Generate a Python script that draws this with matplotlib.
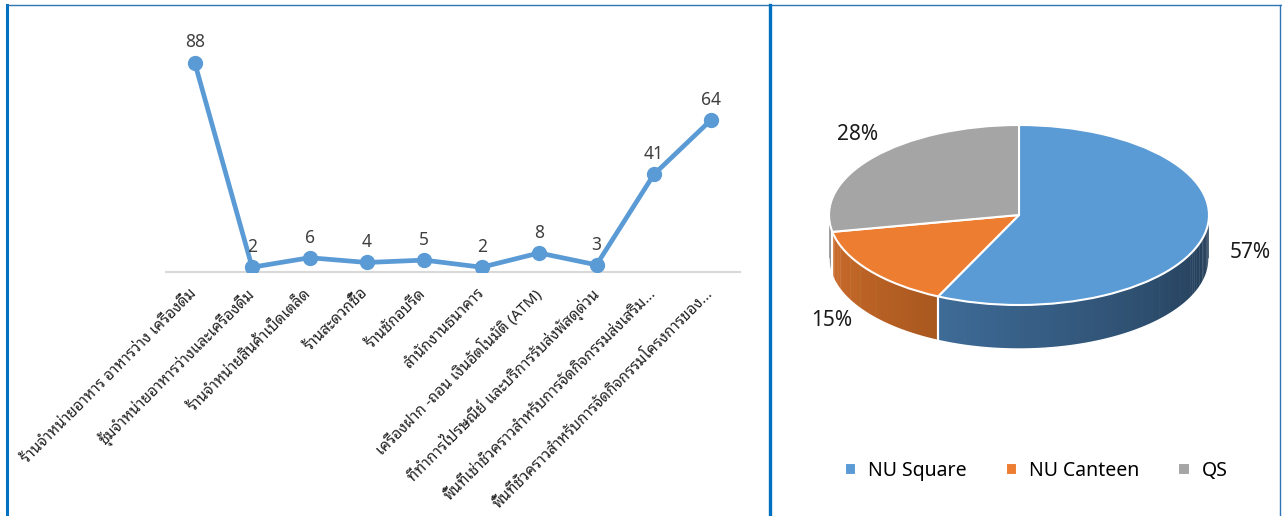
import numpy as np
import matplotlib
matplotlib.use("Agg")
import matplotlib.pyplot as plt
from matplotlib.lines import Line2D
from matplotlib.patches import Polygon

# ---- data ----
categories = [
    "ร้านจำหน่ายอาหาร อาหารว่าง เครื่องดื่ม",
    "ซุ้มจำหน่ายอาหารว่างและเครื่องดื่ม",
    "ร้านจำหน่ายสินค้าเบ็ดเตล็ด",
    "ร้านสะดวกซื้อ",
    "ร้านซักอบรีด",
    "สำนักงานธนาคาร",
    "เครื่องฝาก -ถอน เงินอัตโนมัติ (ATM)",
    "ที่ทำการไปรษณีย์ และบริการรับส่งพัสดุด่วน",
    "พื้นที่เช่าชั่วคราวสำหรับการจัดกิจกรรมส่งเสริม...",
    "พื้นที่ชั่วคราวสำหรับการจัดกิจกรรมโครงการของ...",
]
counts = [88, 2, 6, 4, 5, 2, 8, 3, 41, 64]

pie_labels = ["NU Square", "NU Canteen", "QS"]
pie_values = [57, 15, 28]
pie_colors = ["#5B9BD5", "#ED7D31", "#A5A5A5"]
side_colors = [("#3E6B97", "#223A52"), ("#CB6C2C", "#A9581F"), ("#8A8A8A", "#7A7A7A")]

plt.rcParams["font.family"] = ["Noto Sans Thai Looped", "Noto Sans", "DejaVu Sans"]

fig = plt.figure(figsize=(12.82, 5.16), dpi=100)
W, H = 1282, 516


def fx(px):
    return px / W


def fy(py):
    return 1 - py / H


# ---- panel borders ----
border = "#0070C0"
fig.add_artist(Line2D([fx(7), fx(7)], [fy(5), 0], transform=fig.transFigure, color=border, lw=2.2))
fig.add_artist(Line2D([fx(7), fx(1281)], [fy(5), fy(5)], transform=fig.transFigure, color="#2E75B6", lw=1.0))
fig.add_artist(Line2D([fx(770), fx(770)], [fy(5), 0], transform=fig.transFigure, color=border, lw=2.4))
fig.add_artist(Line2D([fx(1280), fx(1280)], [fy(5), 0], transform=fig.transFigure, color="#2E75B6", lw=1.0))

# ---- line chart ----
ax = fig.add_axes([fx(166), fy(272), fx(740) - fx(166), fy(34) - fy(272)])
x = np.arange(len(counts))
ax.plot(x, counts, color="#5B9BD5", lw=3.4, marker="o", markersize=10,
        solid_capstyle="round", solid_joinstyle="round", zorder=3)
for xi, v in zip(x, counts):
    ax.annotate(str(v), (xi, v), xytext=(0, 8), textcoords="offset points",
                ha="center", va="bottom", fontsize=12.5, color="#404040")
ax.set_xlim(-0.5, len(counts) - 0.5)
ax.set_ylim(0, 100)
ax.set_yticks([])
ax.set_xticks(x)
ax.set_xticklabels(categories, rotation=45, ha="right", va="center",
                   rotation_mode="anchor", fontsize=11, color="#222222")
ax.tick_params(axis="x", length=0, pad=14)
for s in ["top", "right", "left"]:
    ax.spines[s].set_visible(False)
ax.spines["bottom"].set_color("#D9D9D9")
ax.spines["bottom"].set_linewidth(1.5)
ax.patch.set_alpha(0)

# ---- 3D-ish pie ----
cx_px, cy_px, rx_px, ry_px = 1019, 215, 190, 90
xl, yl = (-1.15, 1.15), (-1.7, 1.15)
left_px = cx_px + xl[0] * rx_px
right_px = cx_px + xl[1] * rx_px
top_px = cy_px - yl[1] * ry_px
bot_px = cy_px - yl[0] * ry_px
pax = fig.add_axes([fx(left_px), fy(bot_px), fx(right_px) - fx(left_px), fy(top_px) - fy(bot_px)])
wedges, _ = pax.pie(pie_values, colors=pie_colors, startangle=90, counterclock=False,
                    wedgeprops=dict(edgecolor="white", linewidth=1.5))
pax.set_aspect("auto")
pax.set_xlim(*xl)
pax.set_ylim(*yl)
pax.axis("off")
depth = 44 / ry_px

# side walls, drawn as thin strips for a simple gradient
for w, (c0, c1) in zip(wedges, side_colors):
    t1, t2 = w.theta1 % 360, w.theta2 % 360
    if t2 <= t1:
        t2 += 360
    lo, hi = max(t1, 180), min(t2, 360)
    if hi <= lo:
        continue
    c0 = np.array(matplotlib.colors.to_rgb(c0))
    c1 = np.array(matplotlib.colors.to_rgb(c1))
    n = max(2, int((hi - lo) / 1.5))
    edges = np.linspace(lo, hi, n + 1)
    for i in range(n):
        a = np.radians(np.linspace(edges[i], edges[i + 1] + 0.3, 4))
        xs, ys = np.cos(a), np.sin(a)
        poly = np.column_stack([np.r_[xs, xs[::-1]], np.r_[ys, ys[::-1] - depth]])
        f = i / max(1, n - 1)
        pax.add_patch(Polygon(poly, closed=True, color=c0 + (c1 - c0) * f, lw=0, zorder=0))
    for t in (lo, hi):
        if 180 < t < 360:
            a = np.radians(t)
            pax.plot([np.cos(a)] * 2, [np.sin(a), np.sin(a) - depth], color="white", lw=1.5, zorder=0.5)
    a = np.radians(np.linspace(lo, hi, 80))
    pax.plot(np.cos(a), np.sin(a) - depth, color="white", lw=1.0, zorder=0.5)

for w, v in zip(wedges, pie_values):
    mid = np.radians((w.theta1 + w.theta2) / 2)
    px_, py_ = 1.2 * np.cos(mid), 1.28 * np.sin(mid)
    if py_ < 0:
        px_ *= 1.04
        py_ -= depth * (-np.sin(mid)) * 1.3
    else:
        px_ *= 0.92
        py_ *= 1.1
    pax.text(px_, py_, f"{v}%", ha="center", va="center", fontsize=15, color="#1A1A1A")

fig.legend(wedges, pie_labels, loc="center", bbox_to_anchor=(fx(1036), fy(471)), ncol=3,
           frameon=False, fontsize=14, handlelength=0.6, handleheight=0.6,
           handletextpad=0.6, columnspacing=2.0)

fig.savefig("out.png", dpi=100)
